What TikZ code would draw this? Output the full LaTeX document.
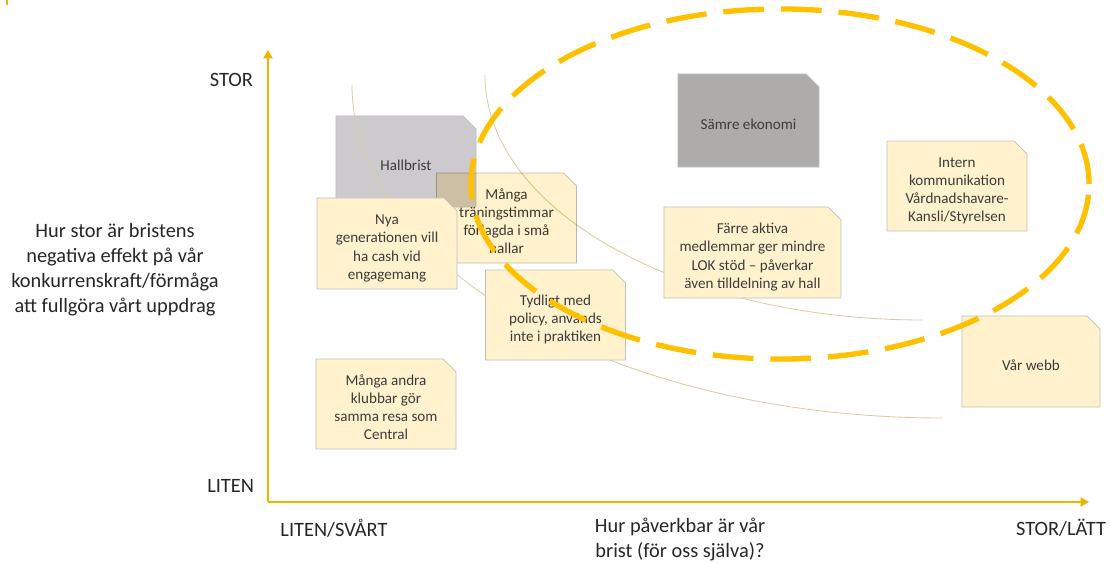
\documentclass[tikz,border=0pt]{standalone}
\usepackage{fontspec}
\setmainfont{Carlito}
\usepackage{tikz}
\usetikzlibrary{shapes.misc, arrows.meta}
\definecolor{axisgold}{RGB}{237, 181, 0}
\definecolor{ringgold}{RGB}{255, 192, 0}
\definecolor{notefill}{RGB}{255, 242, 204}
\definecolor{noteline}{RGB}{191, 191, 191}
\definecolor{lightgrey}{RGB}{204, 202, 204}
\definecolor{darkgrey}{RGB}{174, 171, 171}
\definecolor{thinline}{RGB}{218, 204, 160}
\definecolor{notetext}{RGB}{60, 60, 60}
% note text, set a little below the middle of the note (no size of its own)
\newcommand{\notelines}[1]{\raisebox{\dimexpr(\depth-\height)/2-3.5pt\relax}[0pt][0pt]{\begin{tabular}{@{}c@{}}#1\end{tabular}}}

\begin{document}
\begin{tikzpicture}[x=0.025cm, y=-0.025cm,
    note/.style={chamfered rectangle, chamfered rectangle corners=north east,
        chamfered rectangle xsep=0.32cm, chamfered rectangle ysep=0.32cm,
        draw=noteline, line width=0.5pt, fill=notefill, inner sep=0pt,
        minimum width=3.5cm, minimum height=2.25cm,
        text=notetext, font=\fontsize{10.75}{13}\selectfont},
    greynote/.style={note, fill=lightgrey},
    axislabel/.style={text=black!85, align=center, font=\fontsize{14.5}{17.8}\selectfont},
    axisline/.style={axisgold, line width=1.8pt, -{Triangle[width=6.5pt, length=6pt]}},
    arcline/.style={thinline, line width=0.6pt},
    ring/.style={ringgold, line width=3.8pt, dash pattern=on 29pt off 12pt}]
    \useasboundingbox (0,0) rectangle (1110,563);
    % Grey notes (behind)
    \node[greynote, minimum height=2.275cm] (hallbrist) at (406,161.5) {\notelines{Hallbrist}};
    \node[greynote, fill=darkgrey, minimum width=3.525cm, minimum height=2.325cm] (samre) at (748.5,120.5) {\notelines{Sämre ekonomi}};
    % Thin arcs
    \draw[arcline] (352,85) .. controls (352,269) and (617,418) .. (943,418);
    \draw[arcline] (485,75) .. controls (485,210) and (681,320) .. (923,320);
    % Yellow notes
    \begin{scope}[blend mode=multiply]
        \node[note] (manga) at (506.5,218) {\notelines{Många\\träningstimmar\\förlagda i små\\hallar}};
    \end{scope}
    \node[note, minimum height=2.275cm] (nya) at (387,243.5) {\notelines{Nya\\generationen vill\\ha cash vid\\engagemang}};
    \node[note] (tydligt) at (555.5,315) {\notelines{Tydligt med\\policy, används\\inte i praktiken}};
    \node[note] (andra) at (386,404) {\notelines{Många andra\\klubbar gör\\samma resa som\\Central}};
    \node[note, minimum width=4.425cm, minimum height=2.275cm] (farre) at (752.5,252.5) {\notelines{Färre aktiva\\medlemmar ger mindre\\LOK stöd -- påverkar\\även tilldelning av hall}};
    \node[note] (intern) at (957,186) {\notelines{Intern\\kommunikation\\Vårdnadshavare-\\Kansli/Styrelsen}};
    \node[note, minimum width=3.45cm, minimum height=2.275cm] (webb) at (1031,361.5) {\notelines{Vår webb}};
    % Dashed ring
    \draw[ring] (780,184) ellipse [x radius=7.725cm, y radius=4.375cm];
    % Axes
    \coordinate (origin) at (268,502);
    \coordinate (ytop) at (268,50);
    \coordinate (xend) at (1089,502);
    \draw[axisline] (origin) -- (ytop);
    \draw[axisline] (origin) -- (xend);
    \coordinate (marka) at (7,0);
    \coordinate (markb) at (7,5);
    \draw[axisgold, line width=1.5pt] (marka) -- (markb);
    % Axis labels
    \node[axislabel, anchor=east] (stor) at (258,80) {STOR};
    \node[axislabel, anchor=east] (liten) at (259,486) {LITEN};
    \node[axislabel] (svart) at (334,528) {LITEN/SVÅRT};
    \node[axislabel] (latt) at (1061,528) {STOR/LÄTT};
    \node[axislabel] (xtitle) at (680,540) {Hur påverkbar är vår\\brist (för oss själva)?};
    \node[axislabel] (ytitle) at (115,270) {Hur stor är bristens\\negativa effekt på vår\\konkurrenskraft/förmåga\\att fullgöra vårt uppdrag};
\end{tikzpicture}
\end{document}
